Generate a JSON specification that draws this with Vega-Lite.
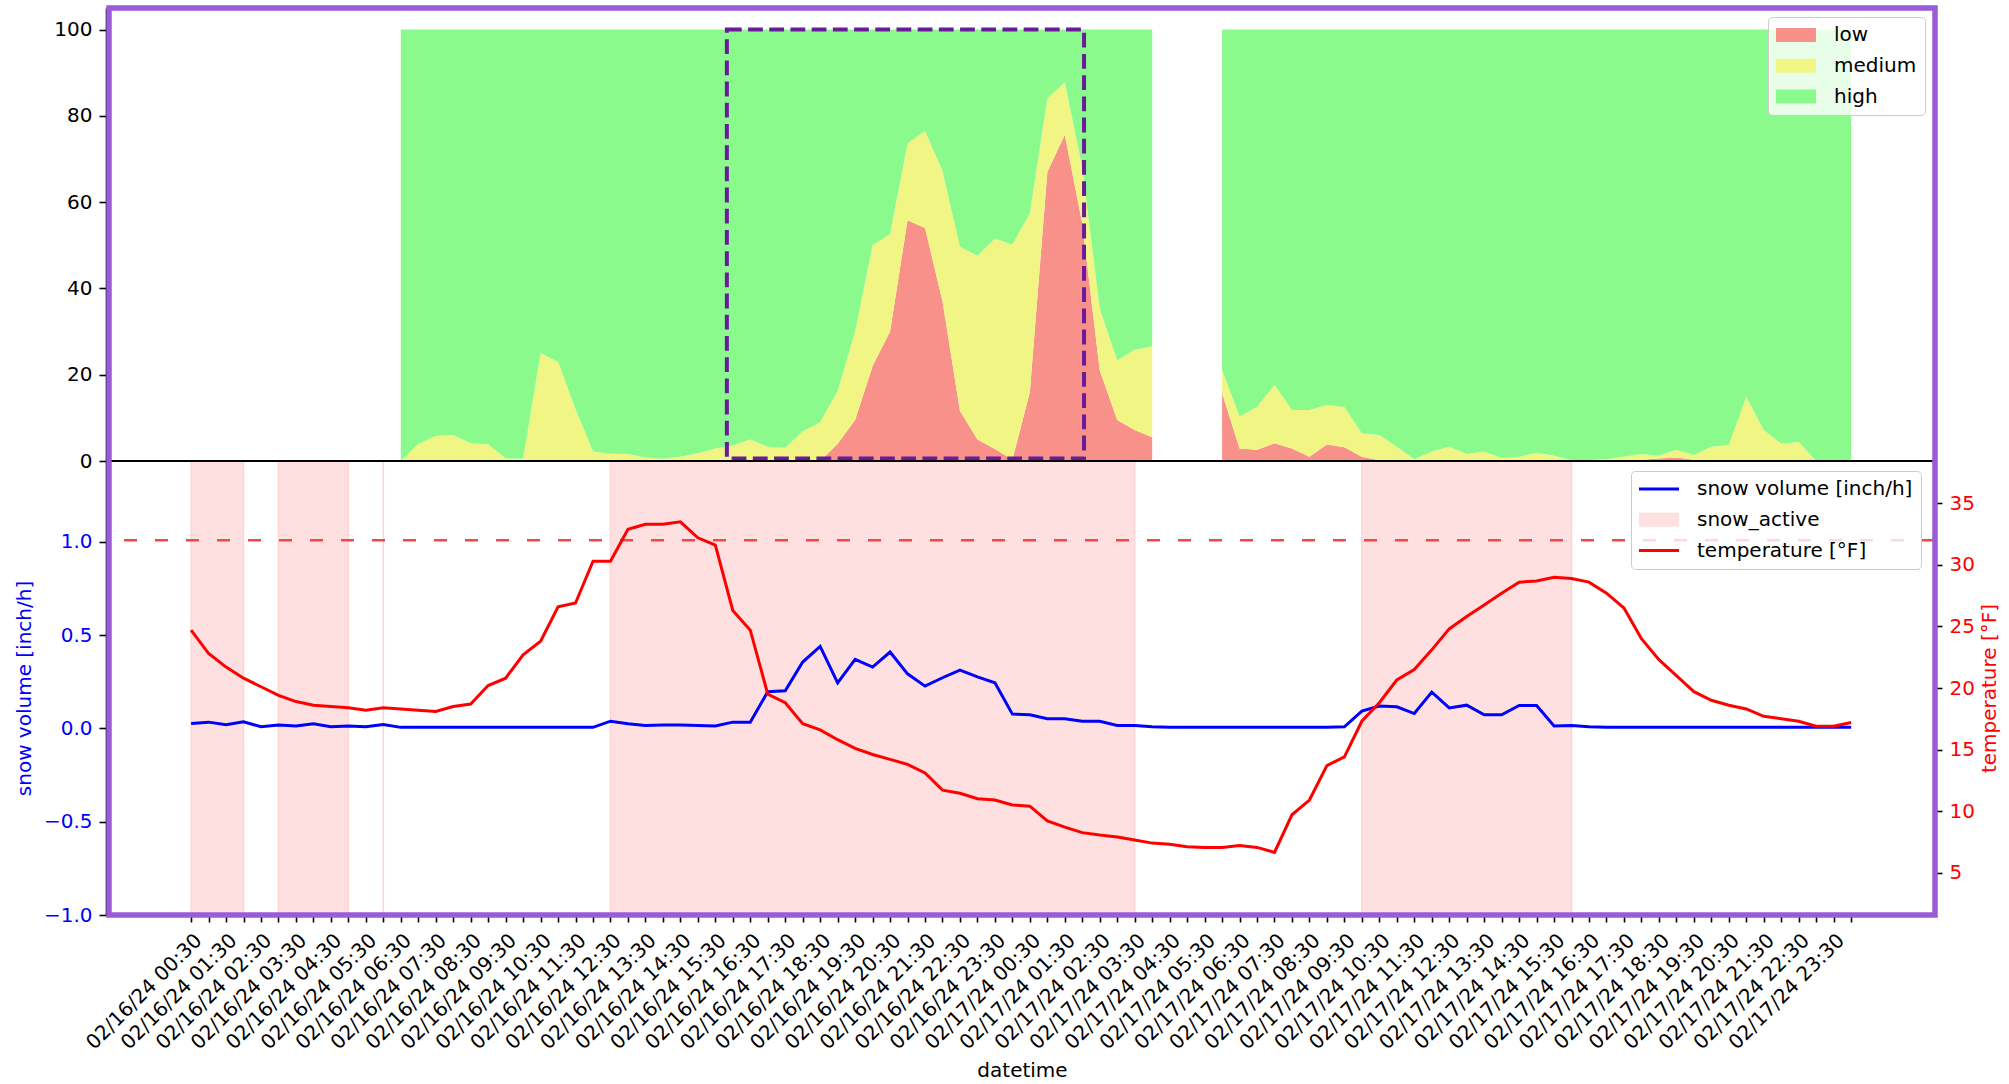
{
  "$schema": "https://vega.github.io/schema/vega-lite/v6.json",
  "width": 1826,
  "height": 907,
  "autosize": {"type": "none"},
  "padding": {"left": 109, "top": 8, "right": 74, "bottom": 169},
  "background": "white",
  "config": {
    "font": "DejaVu Sans",
    "view": {"stroke": null},
    "axis": {"labelFont": "DejaVu Sans", "titleFont": "DejaVu Sans", "labelFontSize": 20, "titleFontSize": 20, "titleFontWeight": "normal", "labelColor": "black", "titleColor": "black", "tickColor": "black", "domainColor": "black", "tickWidth": 1.6, "domainWidth": 1.6, "tickSize": 7, "labelPadding": 7, "grid": false},
    "legend": {"labelFont": "DejaVu Sans", "labelFontSize": 20, "labelColor": "black", "labelLimit": 400}
  },
  "datasets": {
    "main": [
      {"t":"2024-02-16T00:30:00Z","snow":0.027,"temp":24.7},
      {"t":"2024-02-16T01:00:00Z","snow":0.034,"temp":22.8},
      {"t":"2024-02-16T01:30:00Z","snow":0.020,"temp":21.7},
      {"t":"2024-02-16T02:00:00Z","snow":0.036,"temp":20.8},
      {"t":"2024-02-16T02:30:00Z","snow":0.009,"temp":20.1},
      {"t":"2024-02-16T03:00:00Z","snow":0.018,"temp":19.4},
      {"t":"2024-02-16T03:30:00Z","snow":0.013,"temp":18.9},
      {"t":"2024-02-16T04:00:00Z","snow":0.025,"temp":18.6},
      {"t":"2024-02-16T04:30:00Z","snow":0.009,"temp":18.5},
      {"t":"2024-02-16T05:00:00Z","snow":0.013,"temp":18.4},
      {"t":"2024-02-16T05:30:00Z","snow":0.009,"temp":18.2},
      {"t":"2024-02-16T06:00:00Z","snow":0.021,"temp":18.4},
      {"t":"2024-02-16T06:30:00Z","snow":0.006,"temp":18.3,"low":0,"mid":0,"seg":1},
      {"t":"2024-02-16T07:00:00Z","snow":0.006,"temp":18.2,"low":0,"mid":4,"seg":1},
      {"t":"2024-02-16T07:30:00Z","snow":0.006,"temp":18.1,"low":0,"mid":5.8,"seg":1},
      {"t":"2024-02-16T08:00:00Z","snow":0.006,"temp":18.5,"low":0,"mid":6,"seg":1},
      {"t":"2024-02-16T08:30:00Z","snow":0.006,"temp":18.7,"low":0,"mid":4.1,"seg":1},
      {"t":"2024-02-16T09:00:00Z","snow":0.006,"temp":20.2,"low":0,"mid":3.9,"seg":1},
      {"t":"2024-02-16T09:30:00Z","snow":0.006,"temp":20.8,"low":0,"mid":0.6,"seg":1},
      {"t":"2024-02-16T10:00:00Z","snow":0.006,"temp":22.7,"low":0,"mid":0.5,"seg":1},
      {"t":"2024-02-16T10:30:00Z","snow":0.006,"temp":23.8,"low":0,"mid":25,"seg":1},
      {"t":"2024-02-16T11:00:00Z","snow":0.006,"temp":26.6,"low":0,"mid":23,"seg":1},
      {"t":"2024-02-16T11:30:00Z","snow":0.006,"temp":26.9,"low":0,"mid":12,"seg":1},
      {"t":"2024-02-16T12:00:00Z","snow":0.006,"temp":30.3,"low":0,"mid":2.2,"seg":1},
      {"t":"2024-02-16T12:30:00Z","snow":0.039,"temp":30.3,"low":0,"mid":1.7,"seg":1},
      {"t":"2024-02-16T13:00:00Z","snow":0.025,"temp":32.9,"low":0,"mid":1.6,"seg":1},
      {"t":"2024-02-16T13:30:00Z","snow":0.016,"temp":33.3,"low":0,"mid":0.8,"seg":1},
      {"t":"2024-02-16T14:00:00Z","snow":0.018,"temp":33.3,"low":0,"mid":0.5,"seg":1},
      {"t":"2024-02-16T14:30:00Z","snow":0.019,"temp":33.5,"low":0,"mid":1.0,"seg":1},
      {"t":"2024-02-16T15:00:00Z","snow":0.016,"temp":32.2,"low":0,"mid":1.8,"seg":1},
      {"t":"2024-02-16T15:30:00Z","snow":0.013,"temp":31.6,"low":0,"mid":2.9,"seg":1},
      {"t":"2024-02-16T16:00:00Z","snow":0.034,"temp":26.3,"low":0,"mid":3.6,"seg":1},
      {"t":"2024-02-16T16:30:00Z","snow":0.034,"temp":24.7,"low":0,"mid":5.0,"seg":1},
      {"t":"2024-02-16T17:00:00Z","snow":0.197,"temp":19.5,"low":0,"mid":3.3,"seg":1},
      {"t":"2024-02-16T17:30:00Z","snow":0.202,"temp":18.8,"low":0,"mid":3.1,"seg":1},
      {"t":"2024-02-16T18:00:00Z","snow":0.356,"temp":17.1,"low":0,"mid":6.9,"seg":1},
      {"t":"2024-02-16T18:30:00Z","snow":0.44,"temp":16.6,"low":0,"mid":9.0,"seg":1},
      {"t":"2024-02-16T19:00:00Z","snow":0.245,"temp":15.8,"low":4,"mid":16.2,"seg":1},
      {"t":"2024-02-16T19:30:00Z","snow":0.37,"temp":15.1,"low":9.5,"mid":30,"seg":1},
      {"t":"2024-02-16T20:00:00Z","snow":0.329,"temp":14.6,"low":22,"mid":50,"seg":1},
      {"t":"2024-02-16T20:30:00Z","snow":0.41,"temp":14.2,"low":30,"mid":52.6,"seg":1},
      {"t":"2024-02-16T21:00:00Z","snow":0.293,"temp":13.8,"low":55.8,"mid":73.6,"seg":1},
      {"t":"2024-02-16T21:30:00Z","snow":0.227,"temp":13.1,"low":54,"mid":76.5,"seg":1},
      {"t":"2024-02-16T22:00:00Z","snow":0.272,"temp":11.7,"low":37,"mid":67.2,"seg":1},
      {"t":"2024-02-16T22:30:00Z","snow":0.313,"temp":11.45,"low":11.6,"mid":49.6,"seg":1},
      {"t":"2024-02-16T23:00:00Z","snow":0.277,"temp":11.0,"low":5,"mid":47.6,"seg":1},
      {"t":"2024-02-16T23:30:00Z","snow":0.245,"temp":10.9,"low":2.8,"mid":51.6,"seg":1},
      {"t":"2024-02-17T00:00:00Z","snow":0.077,"temp":10.5,"low":0.3,"mid":50.2,"seg":1},
      {"t":"2024-02-17T00:30:00Z","snow":0.074,"temp":10.4,"low":16,"mid":57.4,"seg":1},
      {"t":"2024-02-17T01:00:00Z","snow":0.052,"temp":9.2,"low":67,"mid":84,"seg":1},
      {"t":"2024-02-17T01:30:00Z","snow":0.052,"temp":8.7,"low":75.6,"mid":87.8,"seg":1},
      {"t":"2024-02-17T02:00:00Z","snow":0.039,"temp":8.25,"low":55,"mid":68,"seg":1},
      {"t":"2024-02-17T02:30:00Z","snow":0.039,"temp":8.05,"low":21,"mid":35.3,"seg":1},
      {"t":"2024-02-17T03:00:00Z","snow":0.016,"temp":7.9,"low":9.5,"mid":23.3,"seg":1},
      {"t":"2024-02-17T03:30:00Z","snow":0.016,"temp":7.65,"low":7.2,"mid":25.8,"seg":1},
      {"t":"2024-02-17T04:00:00Z","snow":0.009,"temp":7.4,"low":5.5,"mid":26.6,"seg":1},
      {"t":"2024-02-17T04:30:00Z","snow":0.006,"temp":7.3},
      {"t":"2024-02-17T05:00:00Z","snow":0.006,"temp":7.1},
      {"t":"2024-02-17T05:30:00Z","snow":0.006,"temp":7.05},
      {"t":"2024-02-17T06:00:00Z","snow":0.006,"temp":7.05,"low":15.7,"mid":21.1,"seg":2},
      {"t":"2024-02-17T06:30:00Z","snow":0.006,"temp":7.2,"low":2.9,"mid":10.3,"seg":2},
      {"t":"2024-02-17T07:00:00Z","snow":0.006,"temp":7.05,"low":2.6,"mid":12.6,"seg":2},
      {"t":"2024-02-17T07:30:00Z","snow":0.006,"temp":6.65,"low":4.1,"mid":17.6,"seg":2},
      {"t":"2024-02-17T08:00:00Z","snow":0.006,"temp":9.7,"low":2.9,"mid":11.8,"seg":2},
      {"t":"2024-02-17T08:30:00Z","snow":0.006,"temp":10.9,"low":1,"mid":11.8,"seg":2},
      {"t":"2024-02-17T09:00:00Z","snow":0.006,"temp":13.7,"low":3.8,"mid":13,"seg":2},
      {"t":"2024-02-17T09:30:00Z","snow":0.009,"temp":14.4,"low":3.2,"mid":12.5,"seg":2},
      {"t":"2024-02-17T10:00:00Z","snow":0.093,"temp":17.3,"low":1,"mid":6.4,"seg":2},
      {"t":"2024-02-17T10:30:00Z","snow":0.12,"temp":18.8,"low":0.2,"mid":6,"seg":2},
      {"t":"2024-02-17T11:00:00Z","snow":0.116,"temp":20.65,"low":0,"mid":3.3,"seg":2},
      {"t":"2024-02-17T11:30:00Z","snow":0.08,"temp":21.5,"low":0,"mid":0.4,"seg":2},
      {"t":"2024-02-17T12:00:00Z","snow":0.195,"temp":23.1,"low":0,"mid":2.2,"seg":2},
      {"t":"2024-02-17T12:30:00Z","snow":0.11,"temp":24.8,"low":0,"mid":3.3,"seg":2},
      {"t":"2024-02-17T13:00:00Z","snow":0.125,"temp":25.8,"low":0,"mid":1.6,"seg":2},
      {"t":"2024-02-17T13:30:00Z","snow":0.073,"temp":26.75,"low":0,"mid":2.2,"seg":2},
      {"t":"2024-02-17T14:00:00Z","snow":0.073,"temp":27.7,"low":0,"mid":0.7,"seg":2},
      {"t":"2024-02-17T14:30:00Z","snow":0.123,"temp":28.6,"low":0,"mid":1,"seg":2},
      {"t":"2024-02-17T15:00:00Z","snow":0.123,"temp":28.7,"low":0,"mid":1.9,"seg":2},
      {"t":"2024-02-17T15:30:00Z","snow":0.013,"temp":29.0,"low":0,"mid":1.2,"seg":2},
      {"t":"2024-02-17T16:00:00Z","snow":0.016,"temp":28.9,"low":0,"mid":0.2,"seg":2},
      {"t":"2024-02-17T16:30:00Z","snow":0.009,"temp":28.6,"low":0,"mid":0.2,"seg":2},
      {"t":"2024-02-17T17:00:00Z","snow":0.006,"temp":27.7,"low":0,"mid":0.4,"seg":2},
      {"t":"2024-02-17T17:30:00Z","snow":0.006,"temp":26.5,"low":0,"mid":1,"seg":2},
      {"t":"2024-02-17T18:00:00Z","snow":0.006,"temp":24.0,"low":0.3,"mid":1.6,"seg":2},
      {"t":"2024-02-17T18:30:00Z","snow":0.006,"temp":22.3,"low":0.6,"mid":1.2,"seg":2},
      {"t":"2024-02-17T19:00:00Z","snow":0.006,"temp":21.0,"low":0.8,"mid":2.6,"seg":2},
      {"t":"2024-02-17T19:30:00Z","snow":0.006,"temp":19.7,"low":0.3,"mid":1.4,"seg":2},
      {"t":"2024-02-17T20:00:00Z","snow":0.006,"temp":19.0,"low":0,"mid":3.3,"seg":2},
      {"t":"2024-02-17T20:30:00Z","snow":0.006,"temp":18.6,"low":0,"mid":3.7,"seg":2},
      {"t":"2024-02-17T21:00:00Z","snow":0.006,"temp":18.3,"low":0,"mid":14.9,"seg":2},
      {"t":"2024-02-17T21:30:00Z","snow":0.006,"temp":17.7,"low":0,"mid":7.2,"seg":2},
      {"t":"2024-02-17T22:00:00Z","snow":0.006,"temp":17.5,"low":0,"mid":4,"seg":2},
      {"t":"2024-02-17T22:30:00Z","snow":0.006,"temp":17.3,"low":0,"mid":4.4,"seg":2},
      {"t":"2024-02-17T23:00:00Z","snow":0.006,"temp":16.9,"low":0,"mid":0,"seg":2},
      {"t":"2024-02-17T23:30:00Z","snow":0.006,"temp":16.9,"low":0,"mid":0,"seg":2},
      {"t":"2024-02-18T00:00:00Z","snow":0.006,"temp":17.2,"low":0,"mid":0,"seg":2}
    ],
    "spans": [
      {"start":"2024-02-16T00:30:00Z","end":"2024-02-16T02:00:00Z"},
      {"start":"2024-02-16T03:00:00Z","end":"2024-02-16T05:00:00Z"},
      {"start":"2024-02-16T06:00:00Z","end":"2024-02-16T06:00:00Z"},
      {"start":"2024-02-16T12:30:00Z","end":"2024-02-17T03:30:00Z"},
      {"start":"2024-02-17T10:00:00Z","end":"2024-02-17T16:00:00Z"}
    ]
  },
  "layer": [
    {
      "layer": [
        {
          "data": {"name": "main"},
          "transform": [{"filter": "isValid(datum.low)"}],
          "mark": {"type": "area", "strokeWidth": 0, "opacity": 1},
          "encoding": {
            "x": {"field": "t", "type": "temporal", "scale": {"type": "utc", "domain": [1708034940000, 1708223040000], "nice": false},
              "axis": {
                "values": [1708043400000,1708045200000,1708047000000,1708048800000,1708050600000,1708052400000,1708054200000,1708056000000,1708057800000,1708059600000,1708061400000,1708063200000,1708065000000,1708066800000,1708068600000,1708070400000,1708072200000,1708074000000,1708075800000,1708077600000,1708079400000,1708081200000,1708083000000,1708084800000,1708086600000,1708088400000,1708090200000,1708092000000,1708093800000,1708095600000,1708097400000,1708099200000,1708101000000,1708102800000,1708104600000,1708106400000,1708108200000,1708110000000,1708111800000,1708113600000,1708115400000,1708117200000,1708119000000,1708120800000,1708122600000,1708124400000,1708126200000,1708128000000,1708129800000,1708131600000,1708133400000,1708135200000,1708137000000,1708138800000,1708140600000,1708142400000,1708144200000,1708146000000,1708147800000,1708149600000,1708151400000,1708153200000,1708155000000,1708156800000,1708158600000,1708160400000,1708162200000,1708164000000,1708165800000,1708167600000,1708169400000,1708171200000,1708173000000,1708174800000,1708176600000,1708178400000,1708180200000,1708182000000,1708183800000,1708185600000,1708187400000,1708189200000,1708191000000,1708192800000,1708194600000,1708196400000,1708198200000,1708200000000,1708201800000,1708203600000,1708205400000,1708207200000,1708209000000,1708210800000,1708212600000,1708214400000],
                "tickCount": 300,
                "labelExpr": "utcminutes(datum.value) === 30 ? utcFormat(datum.value, '%m/%d/%y %H:%M') : ''",
                "labelAngle": -45, "labelAlign": "right", "labelBaseline": "top",
                "labelOverlap": false, "labelBound": false, "labelFlush": false,
                "labelPadding": 8, "domain": false, "title": "datetime", "titlePadding": 8
              }
            },
            "y": {"field": "low", "type": "quantitative", "stack": null,
              "scale": {"domain": [0, 105], "range": [453, 0], "nice": false, "zero": false},
              "axis": {"orient": "left", "values": [0, 20, 40, 60, 80, 100], "title": null, "offset": 3}
            },
            "y2": {"datum": 0},
            "fill": {"datum": "low", "type": "nominal",
              "scale": {"domain": ["low", "medium", "high"], "range": ["#f8918a", "#f1f584", "#8bfa8d"]},
              "legend": {"orient": "none", "legendX": 1659, "legendY": 9, "title": null,
                "symbolType": "M-2.5,-0.875H2.5V0.875H-2.5Z", "symbolSize": 256, "symbolStrokeWidth": 0,
                "symbolOffset": 10, "labelOffset": 28, "rowPadding": 10.8, "padding": 8,
                "fillColor": "rgba(255,255,255,0.8)", "strokeColor": "#cccccc", "cornerRadius": 4, "symbolOpacity": 1}
            },
            "detail": {"field": "seg"}
          }
        },
        {
          "data": {"name": "main"},
          "transform": [{"filter": "isValid(datum.low)"}],
          "mark": {"type": "area", "strokeWidth": 0, "opacity": 1},
          "encoding": {
            "x": {"field": "t", "type": "temporal", "scale": {"type": "utc", "domain": [1708034940000, 1708223040000], "nice": false}},
            "y": {"field": "mid", "type": "quantitative", "stack": null, "scale": {"domain": [0, 105], "range": [453, 0], "nice": false, "zero": false}},
            "y2": {"field": "low"},
            "fill": {"datum": "medium", "type": "nominal"},
            "detail": {"field": "seg"}
          }
        },
        {
          "data": {"name": "main"},
          "transform": [{"filter": "isValid(datum.low)"}],
          "mark": {"type": "area", "strokeWidth": 0, "opacity": 1},
          "encoding": {
            "x": {"field": "t", "type": "temporal", "scale": {"type": "utc", "domain": [1708034940000, 1708223040000], "nice": false}},
            "y": {"field": "mid", "type": "quantitative", "stack": null, "scale": {"domain": [0, 105], "range": [453, 0], "nice": false, "zero": false}},
            "y2": {"datum": 100},
            "fill": {"datum": "high", "type": "nominal"},
            "detail": {"field": "seg"}
          }
        },
        {
          "data": {"values": [{}]},
          "mark": {"type": "rect", "fill": "transparent", "stroke": "#6a1b9a", "strokeWidth": 4, "strokeDash": [14.8, 6.4]},
          "encoding": {
            "x": {"datum": 1708098588000, "type": "temporal", "scale": {"type": "utc", "domain": [1708034940000, 1708223040000], "nice": false}},
            "x2": {"datum": 1708135380000},
            "y": {"datum": 0.6, "type": "quantitative", "scale": {"domain": [0, 105], "range": [453, 0], "nice": false, "zero": false}},
            "y2": {"datum": 100}
          }
        }
      ]
    },
    {
      "layer": [
        {
          "data": {"name": "spans"},
          "mark": {"type": "rect", "fillOpacity": 1, "stroke": "#ffd4d4", "strokeWidth": 1.5},
          "encoding": {
            "x": {"field": "start", "type": "temporal", "scale": {"type": "utc", "domain": [1708034940000, 1708223040000], "nice": false}},
            "x2": {"field": "end"},
            "y": {"datum": -1, "type": "quantitative", "scale": {"domain": [-1, 1.434], "range": [907, 453], "nice": false, "zero": false}},
            "y2": {"datum": 1.434},
            "color": {"datum": "snow_active\u200b", "type": "nominal",
              "scale": {"domain": ["snow volume [inch/h]\u200b", "snow_active\u200b", "temperature [°F]\u200b"], "range": ["transparent", "#ffe0e0", "transparent"]},
              "legend": {"orient": "none", "legendX": 1522, "legendY": 463, "title": null,
                "symbolType": "M-2.5,-0.875H2.5V0.875H-2.5Z", "symbolSize": 256, "symbolStrokeWidth": 0,
                "symbolOffset": 10, "labelOffset": 28, "rowPadding": 10.8, "padding": 8, "labelColor": "transparent",
                "fillColor": "rgba(255,255,255,0.8)", "strokeColor": "#cccccc", "cornerRadius": 4, "symbolOpacity": 1}
            }
          }
        },
        {
          "data": {"values": [{}]},
          "mark": {"type": "rule", "color": "black", "strokeWidth": 2},
          "encoding": {
            "y": {"datum": 1.434, "type": "quantitative", "scale": {"domain": [-1, 1.434], "range": [907, 453], "nice": false, "zero": false}}
          }
        },
        {
          "data": {"name": "main"},
          "mark": {"type": "line", "strokeWidth": 3},
          "encoding": {
            "x": {"field": "t", "type": "temporal", "scale": {"type": "utc", "domain": [1708034940000, 1708223040000], "nice": false}},
            "y": {"field": "snow", "type": "quantitative",
              "scale": {"domain": [-1, 1.434], "range": [907, 453], "nice": false, "zero": false},
              "axis": {"orient": "left", "values": [-1, -0.5, 0, 0.5, 1], "format": ".1f", "labelColor": "blue", "title": "snow volume [inch/h]", "titleColor": "blue", "offset": 3, "titlePadding": 9}
            },
            "stroke": {"datum": "snow volume [inch/h]", "type": "nominal",
              "scale": {"domain": ["snow volume [inch/h]", "snow_active", "temperature [°F]"], "range": ["#0000ff", "transparent", "#ff0000"]},
              "legend": {"orient": "none", "legendX": 1522, "legendY": 463, "title": null,
                "symbolType": "M-6.667,0H6.667", "symbolSize": 36, "symbolStrokeWidth": 3,
                "symbolOffset": 10, "labelOffset": 28, "rowPadding": 10.8, "padding": 8, "symbolOpacity": 1}
            }
          }
        }
      ]
    },
    {
      "layer": [
        {
          "data": {"values": [{}]},
          "mark": {"type": "rule", "color": "#f04848", "strokeWidth": 2.5, "strokeDash": [13, 18]},
          "encoding": {
            "y": {"datum": 32, "type": "quantitative", "scale": {"domain": [1.56, 38.44], "range": [907, 453], "nice": false, "zero": false}}
          }
        },
        {
          "data": {"name": "main"},
          "mark": {"type": "line", "strokeWidth": 3},
          "encoding": {
            "x": {"field": "t", "type": "temporal", "scale": {"type": "utc", "domain": [1708034940000, 1708223040000], "nice": false}},
            "y": {"field": "temp", "type": "quantitative",
              "scale": {"domain": [1.56, 38.44], "range": [907, 453], "nice": false, "zero": false},
              "axis": {"orient": "right", "values": [5, 10, 15, 20, 25, 30, 35], "labelColor": "red", "title": "temperature [°F]", "titleColor": "red", "titleAngle": 270, "titleBaseline": "top", "titlePadding": 5, "domain": false}
            },
            "stroke": {"datum": "temperature [°F]", "type": "nominal"}
          }
        }
      ]
    },
    {
      "data": {"values": [{}]},
      "mark": {"type": "rect", "fill": "transparent", "stroke": "#9a5bd6", "strokeWidth": 5.5},
      "encoding": {
        "x": {"datum": 1708034940000, "type": "temporal", "scale": {"type": "utc", "domain": [1708034940000, 1708223040000], "nice": false}},
        "x2": {"datum": 1708223040000},
        "y": {"datum": 0, "type": "quantitative", "scale": {"domain": [0, 1], "range": [907, 0], "nice": false, "zero": false}, "axis": null},
        "y2": {"datum": 1}
      }
    }
  ],
  "resolve": {"scale": {"y": "independent"}}
}
